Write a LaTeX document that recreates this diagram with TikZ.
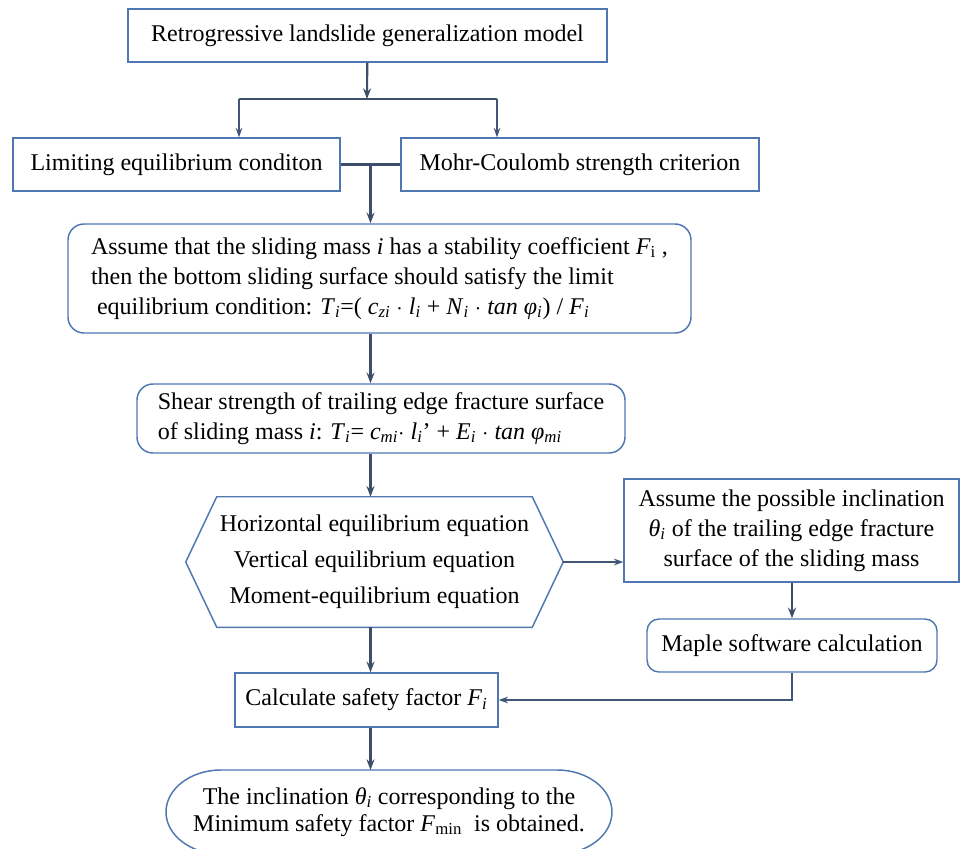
\documentclass[tikz,border=0pt]{standalone}
\usepackage{fontspec}
\setmainfont{Liberation Serif}
\usetikzlibrary{calc, positioning, arrows.meta, shapes.geometric}
\definecolor{boxblue}{RGB}{79,119,178}
\definecolor{arrowgray}{RGB}{62,78,104}
\newcommand{\vsub}[2]{\textit{#1}\textsubscript{\textit{#2}}}
\tikzset{
  flowbox/.style={draw=boxblue, line width=1.1pt, align=center, inner sep=0pt},
  roundbox/.style={flowbox, rounded corners=12pt},
  flowarrow/.style={-{Stealth[length=8pt, width=6pt]}, line width=1.6pt, arrowgray},
  thinarrow/.style={-{Stealth[length=7pt, width=5pt]}, line width=1.1pt, arrowgray!80!boxblue}
}

\begin{document}
\begin{tikzpicture}[x=0.75pt, y=-0.75pt, font=\fontsize{18}{22.5}\selectfont]
  \useasboundingbox (0,0) rectangle (961,849);

  % top of the chart
  \node[flowbox, minimum width=359.25pt, minimum height=39.75pt] (model) at (367.5,35.5)
    {Retrogressive landslide generalization model};
  \node[flowbox, minimum width=245.25pt, minimum height=39.75pt] (limit) at (176.5,164.5)
    {Limiting equilibrium conditon};
  \node[flowbox, minimum width=268.5pt, minimum height=39.75pt] (mohr) at (580,164.5)
    {Mohr-Coulomb strength criterion};
  \coordinate (split) at (367,99);
  \coordinate (splitl) at (239,99);
  \coordinate (splitr) at (497,99);
  \coordinate (join) at ($(limit.east)!0.5!(mohr.west)$);

  % main column
  \node[roundbox, minimum width=467.25pt, minimum height=81.75pt, align=left] (assume) at (379.5,278.5)
    {Assume that the sliding mass \textit{i} has a stability coefficient \textit{F}\textsubscript{i} ,\\
     then the bottom sliding surface should satisfy the limit\\
     \ equilibrium condition: \vsub{T}{i}=( \vsub{c}{zi} $\cdot$ \vsub{l}{i} + \vsub{N}{i} $\cdot$ \textit{tan} \vsub{φ}{i}) / \vsub{F}{i}};
  \node[roundbox, minimum width=366pt, minimum height=51.75pt, align=left] (shear) at (381,418.5)
    {Shear strength of trailing edge fracture surface\\
     of sliding mass \textit{i}: \vsub{T}{i}= \vsub{c}{mi}$\cdot$ \vsub{l}{i}’ + \vsub{E}{i} $\cdot$ \textit{tan} \vsub{φ}{mi}};
  \node[minimum width=282.75pt, minimum height=97.5pt, align=center, inner sep=0pt,
        font=\fontsize{18}{27}\selectfont] (equil) at (374.5,562)
    {Horizontal equilibrium equation\\
     Vertical equilibrium equation\\
     Moment-equilibrium equation};
  \draw[boxblue, line width=1.1pt] (equil.west) -- ([xshift=23.25pt]equil.north west)
    -- ([xshift=-23.25pt]equil.north east) -- (equil.east)
    -- ([xshift=-23.25pt]equil.south east) -- ([xshift=23.25pt]equil.south west) -- cycle;
  \node[flowbox, minimum width=197.25pt, minimum height=40.5pt] (safety) at (366.5,700)
    {Calculate safety factor \vsub{F}{i}};
  \node[align=center, inner sep=0pt, font=\fontsize{18}{20.5}\selectfont] (result) at (389,812)
    {The inclination \vsub{θ}{i} corresponding to the\\
     Minimum safety factor \textit{F}\textsubscript{min}\ \ is obtained.};
  \coordinate (resnw) at ($(result.center)+(-168,-42)$);
  \coordinate (resne) at ($(result.center)+(168,-42)$);
  \coordinate (ressw) at ($(result.center)+(-168,42)$);
  \draw[boxblue, line width=1.1pt] (resnw) -- (resne)
    arc[start angle=90, end angle=-90, x radius=41.25pt, y radius=31.5pt]
    -- (ressw)
    arc[start angle=270, end angle=90, x radius=41.25pt, y radius=31.5pt] -- cycle;

  % right column
  \node[flowbox, minimum width=251.25pt, minimum height=77.25pt] (incl) at (791.5,530.5)
    {Assume the possible inclination\\
     \vsub{θ}{i} of the trailing edge fracture\\
     surface of the sliding mass};
  \node[roundbox, rounded corners=9pt, minimum width=217.5pt, minimum height=39.75pt] (maple) at (792,645.5)
    {Maple software calculation};

  % connectors
  \draw[flowarrow] (model) -- (split);
  \draw[line width=1.6pt, arrowgray] (splitl) -- (splitr);
  \draw[thinarrow] (splitl) -- (splitl |- limit.north);
  \draw[thinarrow] (splitr) -- (splitr |- mohr.north);
  \draw[line width=1.6pt, arrowgray] (limit.east) -- (mohr.west);
  \draw[flowarrow] (join) -- (join |- assume.north);
  \draw[flowarrow] (assume.south -| join) -- (shear.north -| join);
  \draw[flowarrow] (shear.south -| join) -- (equil.north -| join);
  \draw[thinarrow] (equil.east) -- (equil.east -| incl.west);
  \draw[flowarrow] (incl.south -| maple.north) -- (maple.north);
  \draw[flowarrow] (equil.south -| join) -- (safety.north -| join);
  \draw[thinarrow] (maple.south) |- (safety.east);
  \draw[flowarrow] (safety.south -| join) -- (resnw -| join);
\end{tikzpicture}
\end{document}
